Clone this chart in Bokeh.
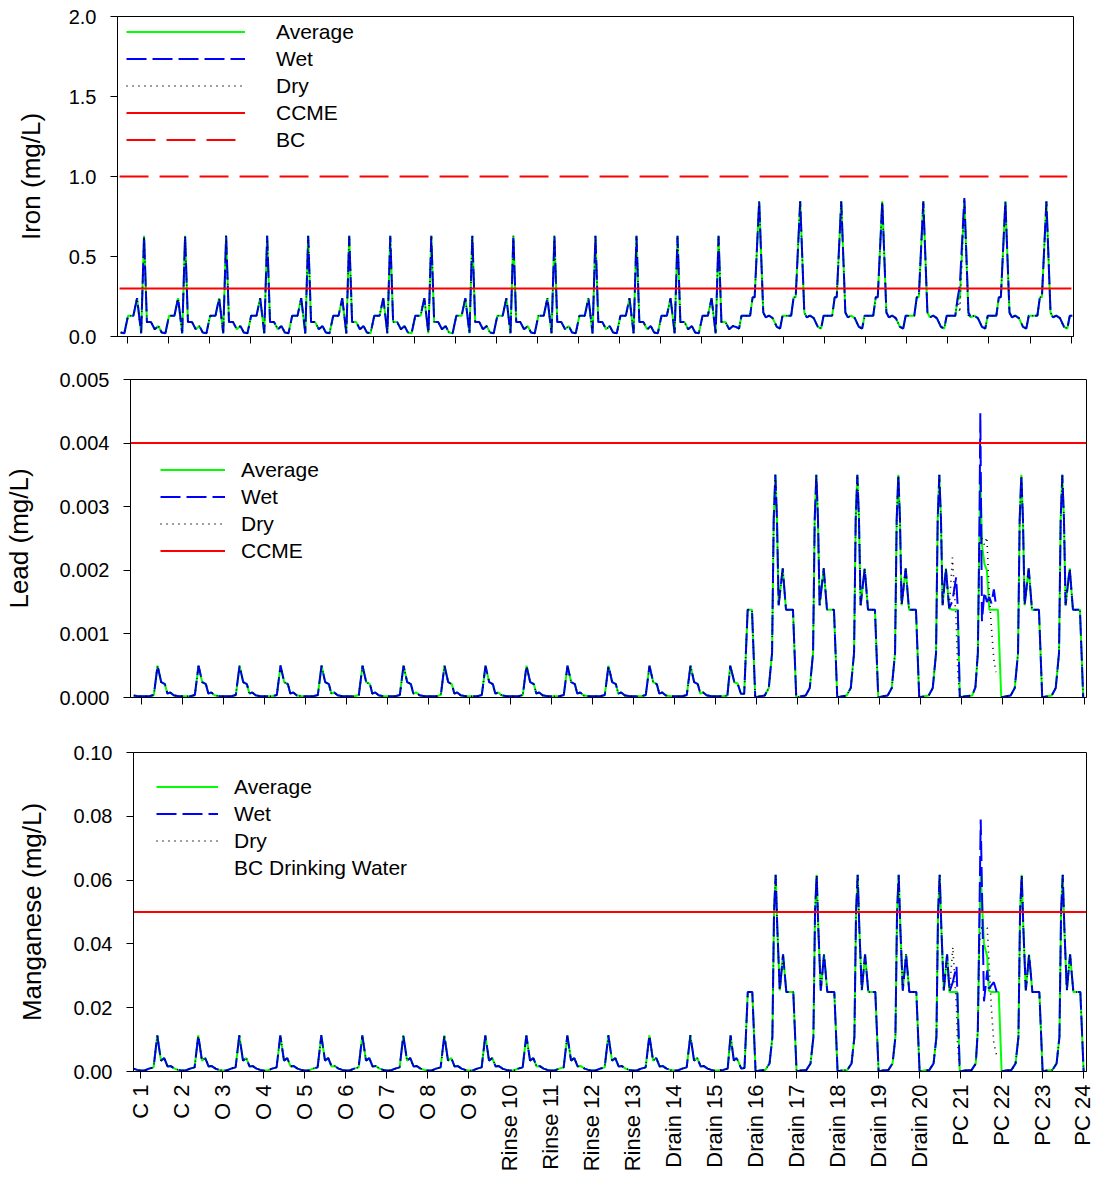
import math
import numpy as np
from bokeh.plotting import figure
from bokeh.models import (FixedTicker, Legend, LegendItem, ColumnDataSource,
                          Range1d, NumeralTickFormatter)
from bokeh.embed import file_html
from bokeh.resources import INLINE

FONT = "Liberation Sans"

# ---------------- categories ----------------
labels = ["C 1", "C 2", "O 3", "O 4", "O 5", "O 6", "O 7", "O 8", "O 9",
          "Rinse 10", "Rinse 11", "Rinse 12", "Rinse 13",
          "Drain 14", "Drain 15", "Drain 16", "Drain 17", "Drain 18", "Drain 19", "Drain 20",
          "PC 21", "PC 22", "PC 23", "PC 24"]

# ---------------- guideline values ----------------
fe_ccme = 0.3
fe_bc = 1.0
pb_ccme = 0.004
mn_bc = 0.05

# ---------------- Iron profiles (offset within period, mg/L) ----------------
fe_low_off = [-0.16, -0.07, 0.02, 0.15, 0.24, 0.34, 0.41, 0.48, 0.58, 0.67, 0.76]
fe_low_val = [0.025, 0.02, 0.13, 0.13, 0.24, 0.02, 0.63, 0.09, 0.09, 0.045, 0.065]

fe_high_off = [-0.17, -0.09, -0.03, 0.03, 0.18, 0.24, 0.29, 0.40, 0.50, 0.56, 0.64, 0.73]
fe_high_val = [0.06, 0.05, 0.13, 0.13, 0.13, 0.245, 0.245, 0.845, 0.15, 0.12, 0.13, 0.115]

fe_pc21_off = [-0.17, -0.09, -0.03, 0.03, 0.18, 0.24, 0.29, 0.40, 0.50, 0.56, 0.64, 0.73]
fe_pc21_avg = [0.06, 0.05, 0.13, 0.13, 0.13, 0.245, 0.235, 0.855, 0.14, 0.12, 0.13, 0.115]
fe_pc21_wet = [0.06, 0.05, 0.13, 0.13, 0.13, 0.245, 0.32, 0.866, 0.15, 0.12, 0.13, 0.115]
fe_pc21_dry = [0.06, 0.05, 0.13, 0.13, 0.13, 0.24, 0.15, 0.845, 0.13, 0.12, 0.13, 0.115]

fe_seq = ["low"] * 15 + ["high"] * 5 + ["pc21"] + ["high"] * 3

# ---------------- Lead profiles ----------------
pb_low_off = [-0.18, -0.08, 0.0, 0.10, 0.20, 0.31, 0.40, 0.49, 0.58, 0.64, 0.71, 0.80]
pb_low_val = [0.00003, 0.00002, 0.00002, 0.00002, 0.00002, 0.00004, 0.0005, 0.00024,
              0.00021, 0.00006, 0.00008, 0.00003]

pb_d15_off = [-0.18, -0.08, 0.0, 0.10, 0.20, 0.30, 0.37, 0.47, 0.55, 0.63, 0.71, 0.795, 0.90]
pb_d15_val = [0.00003, 0.00002, 0.00002, 0.00002, 0.00002, 0.00003, 0.0005, 0.00024,
              0.00022, 0.00006, 0.00006, 0.00138, 0.00138]

pb_high_off = [-0.02, 0.10, 0.21, 0.31, 0.39, 0.43, 0.47, 0.51, 0.55, 0.65, 0.73, 0.90]
pb_high_val = [0.0, 0.00002, 0.00003, 0.00015, 0.0007, 0.0028, 0.0035, 0.0028,
               0.00145, 0.00203, 0.00138, 0.00138]

pb_d20_off = [-0.02, 0.10, 0.21, 0.31, 0.39, 0.43, 0.47, 0.51, 0.55, 0.63, 0.71, 0.79, 0.88, 0.92]
pb_d20_avg = [0.0, 0.00002, 0.00003, 0.00015, 0.0007, 0.0028, 0.0035, 0.0028,
              0.00145, 0.00203, 0.0014, 0.00138, 0.00138, 0.00138]
pb_d20_wet = [0.0, 0.00002, 0.00003, 0.00015, 0.0007, 0.0028, 0.0035, 0.0028,
              0.00145, 0.00203, 0.0014, 0.00152, 0.00189, 0.0014]
pb_d20_dry = [0.0, 0.00002, 0.00003, 0.00015, 0.0007, 0.0028, 0.0035, 0.0028,
              0.00145, 0.00203, 0.0014, 0.0022, 0.0012, 0.0004]

pb_pc21_off = [-0.03, 0.10, 0.27, 0.35, 0.41, 0.45, 0.47, 0.51, 0.57, 0.63, 0.69, 0.74, 0.80, 0.85, 0.90]
pb_pc21_avg = [0.0, 0.00002, 0.00003, 0.00016, 0.0007, 0.0026, 0.0035, 0.0024,
               0.0021, 0.002, 0.00138, 0.00138, 0.00138, 0.00138, 0.00138]
pb_pc21_wet = [0.0, 0.00002, 0.00003, 0.00016, 0.0007, 0.0028, 0.00447, 0.0012,
               0.00166, 0.0015, 0.00158, 0.00148, 0.0017, 0.00146, np.nan]
pb_pc21_dry = [0.0, 0.00002, 0.00003, 0.00016, 0.0007, 0.0024, 0.0025, 0.0025,
               0.0024, 0.00252, 0.0016, 0.0011, 0.0006, 0.0004, np.nan]

pb_seq = ["low"] * 14 + ["d15"] + ["high"] * 4 + ["d20", "pc21"] + ["high"] * 3

# ---------------- Manganese profiles ----------------
mn_low_off = [-0.17, -0.08, 0.0, 0.10, 0.21, 0.32, 0.41, 0.50, 0.58, 0.66, 0.74]
mn_low_val = [0.0009, 0.0005, 0.0003, 0.0003, 0.0009, 0.0013, 0.0113, 0.0034, 0.0042, 0.0016, 0.0017]

mn_d15_off = [-0.17, -0.08, 0.0, 0.10, 0.21, 0.32, 0.39, 0.47, 0.53, 0.57, 0.65, 0.73, 0.81, 0.92]
mn_d15_val = [0.0009, 0.0005, 0.0003, 0.0003, 0.0005, 0.0009, 0.0113, 0.0034, 0.0042,
              0.0034, 0.0009, 0.0011, 0.0249, 0.0249]

mn_high_off = [0.0, 0.10, 0.24, 0.34, 0.41, 0.45, 0.49, 0.53, 0.59, 0.67, 0.75, 0.92]
mn_high_val = [0.0, 0.0003, 0.0005, 0.0025, 0.0108, 0.05, 0.0617, 0.045, 0.0254, 0.0367, 0.0249, 0.0249]

mn_d20_off = [0.0, 0.10, 0.24, 0.34, 0.41, 0.45, 0.49, 0.53, 0.59, 0.67, 0.73, 0.81, 0.90, 0.92]
mn_d20_avg = [0.0, 0.0003, 0.0005, 0.0025, 0.0108, 0.05, 0.0617, 0.045, 0.0254, 0.0367,
              0.0249, 0.0249, 0.0249, 0.0249]
mn_d20_wet = [0.0, 0.0003, 0.0005, 0.0025, 0.0108, 0.05, 0.0617, 0.045, 0.0254, 0.0367,
              0.025, 0.028, 0.033, 0.025]
mn_d20_dry = [0.0, 0.0003, 0.0005, 0.0025, 0.0108, 0.05, 0.0617, 0.045, 0.0254, 0.0367,
              0.025, 0.039, 0.02, 0.0097]

mn_pc21_off = [-0.02, 0.10, 0.27, 0.37, 0.42, 0.46, 0.49, 0.57, 0.65, 0.69, 0.75, 0.81, 0.88, 0.93]
mn_pc21_avg = [0.0, 0.0003, 0.0005, 0.0025, 0.013, 0.045, 0.062, 0.04, 0.036, 0.0254,
               0.0249, 0.0249, 0.0249, 0.0249]
mn_pc21_wet = [0.0, 0.0003, 0.0005, 0.0025, 0.013, 0.05, 0.079, 0.022, 0.0317, 0.026,
               0.027, 0.028, 0.025, np.nan]
mn_pc21_dry = [0.0, 0.0003, 0.0005, 0.0025, 0.013, 0.04, 0.045, 0.045, 0.045, 0.035,
               0.02, 0.0088, 0.005, np.nan]

mn_seq = ["low"] * 14 + ["d15"] + ["high"] * 4 + ["d20", "pc21"] + ["high"] * 3


def prof(off, avg, wet=None, dry=None):
    return {"off": off, "avg": avg, "wet": wet if wet is not None else avg,
            "dry": dry if dry is not None else avg}


fe_profiles = {"low": prof(fe_low_off, fe_low_val), "high": prof(fe_high_off, fe_high_val),
               "pc21": prof(fe_pc21_off, fe_pc21_avg, fe_pc21_wet, fe_pc21_dry)}
pb_profiles = {"low": prof(pb_low_off, pb_low_val), "d15": prof(pb_d15_off, pb_d15_val),
               "high": prof(pb_high_off, pb_high_val),
               "d20": prof(pb_d20_off, pb_d20_avg, pb_d20_wet, pb_d20_dry),
               "pc21": prof(pb_pc21_off, pb_pc21_avg, pb_pc21_wet, pb_pc21_dry)}
mn_profiles = {"low": prof(mn_low_off, mn_low_val), "d15": prof(mn_d15_off, mn_d15_val),
               "high": prof(mn_high_off, mn_high_val),
               "d20": prof(mn_d20_off, mn_d20_avg, mn_d20_wet, mn_d20_dry),
               "pc21": prof(mn_pc21_off, mn_pc21_avg, mn_pc21_wet, mn_pc21_dry)}


def build(profiles, seq, x_end):
    xs, a, w, d = [], [], [], []
    for p, name in enumerate(seq):
        pr = profiles[name]
        for i, off in enumerate(pr["off"]):
            x = p + off
            if x > x_end:
                continue
            xs.append(x)
            a.append(pr["avg"][i])
            w.append(pr["wet"][i])
            d.append(pr["dry"][i])
    return ColumnDataSource(dict(x=np.array(xs), avg=np.array(a, dtype=float),
                                 wet=np.array(w, dtype=float), dry=np.array(d, dtype=float)))


def make_fig(height, borders, xr, yr, yticks, yfmt, ylabel, ylabel_standoff, show_xlabels):
    top, bottom, left, right = borders
    p = figure(width=1094, height=height, output_backend="svg", toolbar_location=None,
               x_range=Range1d(*xr), y_range=Range1d(*yr),
               min_border_top=top, min_border_bottom=bottom,
               min_border_left=left, min_border_right=right)
    p.outline_line_color = "black"
    p.outline_line_width = 1
    p.outline_line_alpha = 1
    p.xgrid.grid_line_color = None
    p.ygrid.grid_line_color = None
    p.background_fill_color = "white"
    p.border_fill_color = "white"

    xa = p.xaxis[0]
    xa.axis_line_color = "black"
    if show_xlabels:
        xa.ticker = FixedTicker(ticks=list(range(len(labels))))
        xa.major_tick_out = 7
        xa.major_tick_in = 0
        xa.major_tick_line_color = "black"
        xa.minor_tick_out = 0
        xa.minor_tick_in = 0
        xa.major_label_overrides = {i: s for i, s in enumerate(labels)}
        xa.major_label_orientation = math.pi / 2
        xa.major_label_text_font = FONT
        xa.major_label_text_font_size = "22px"
        xa.major_label_text_color = "black"
        xa.major_label_standoff = 6
    else:
        # tick marks only (no labels): use minor ticks at the category positions
        xa.ticker = FixedTicker(ticks=[], minor_ticks=list(range(len(labels))))
        xa.minor_tick_out = 7
        xa.minor_tick_in = 0
        xa.minor_tick_line_color = "black"
        xa.major_tick_out = 0
        xa.major_tick_in = 0

    ya = p.yaxis[0]
    ya.ticker = FixedTicker(ticks=yticks)
    ya.formatter = NumeralTickFormatter(format=yfmt)
    ya.major_tick_out = 7
    ya.major_tick_in = 0
    ya.minor_tick_out = 0
    ya.minor_tick_in = 0
    ya.axis_line_color = "black"
    ya.major_tick_line_color = "black"
    ya.major_label_text_font = FONT
    ya.major_label_text_font_size = "20px"
    ya.major_label_text_color = "black"
    ya.major_label_standoff = 14
    ya.axis_label = ylabel
    ya.axis_label_text_font = FONT
    ya.axis_label_text_font_size = "26px"
    ya.axis_label_text_font_style = "normal"
    ya.axis_label_text_color = "black"
    ya.axis_label_standoff = ylabel_standoff
    return p


def add_series(p, src):
    r_avg = p.line("x", "avg", source=src, line_color="#00ff00", line_width=2)
    r_wet = p.line("x", "wet", source=src, line_color="#0000ff", line_width=2, line_dash="20 6")
    r_dry = p.line("x", "dry", source=src, line_color="black", line_width=1.6, line_dash="1 5")
    return r_avg, r_wet, r_dry


def legend(items, loc, gw, standoff):
    return Legend(items=items, location=loc, glyph_width=gw, glyph_height=27,
                  label_standoff=standoff, spacing=0, padding=0, margin=0,
                  border_line_alpha=0, background_fill_alpha=0,
                  label_text_font=FONT, label_text_font_size="21px",
                  label_text_color="black", label_height=27)


# ---------------- Iron ----------------
fe_xr = (-0.237, 23.06)
f1 = make_fig(358, (16, 22, 117, 21), fe_xr, (0, 2.0), [0, 0.5, 1.0, 1.5, 2.0], "0.0",
              "Iron (mg/L)", 20, False)
fe_src = build(fe_profiles, fe_seq, 23.05)
a1, w1, d1 = add_series(f1, fe_src)
c1 = f1.line(x=[fe_xr[0] + 0.05, fe_xr[1] - 0.05], y=[fe_ccme, fe_ccme], line_color="red", line_width=2)
b1 = f1.line(x=[fe_xr[0] + 0.05, fe_xr[1] - 0.15], y=[fe_bc, fe_bc], line_color="red", line_width=2,
             line_dash="29 11")
f1.add_layout(legend([LegendItem(label="Average", renderers=[a1]),
                      LegendItem(label="Wet", renderers=[w1]),
                      LegendItem(label="Dry", renderers=[d1]),
                      LegendItem(label="CCME", renderers=[c1]),
                      LegendItem(label="BC", renderers=[b1])], (9, 183), 119, 31))

# ---------------- Lead ----------------
pb_xr = (-0.26, 23.06)
f2 = make_fig(367, (21, 28, 130, 8), pb_xr, (0, 0.005),
              [0, 0.001, 0.002, 0.003, 0.004, 0.005], "0.000", "Lead (mg/L)", 22, False)
pb_src = build(pb_profiles, pb_seq, 23.0)
a2, w2, d2 = add_series(f2, pb_src)
c2 = f2.line(x=list(pb_xr), y=[pb_ccme, pb_ccme], line_color="red", line_width=2)
f2.add_layout(legend([LegendItem(label="Average", renderers=[a2]),
                      LegendItem(label="Wet", renderers=[w2]),
                      LegendItem(label="Dry", renderers=[d2]),
                      LegendItem(label="CCME", renderers=[c2])], (30, 133), 65, 16))

# ---------------- Manganese ----------------
mn_xr = (-0.17, 23.07)
f3 = make_fig(454, (27, 108, 133, 8), mn_xr, (0, 0.10),
              [0, 0.02, 0.04, 0.06, 0.08, 0.10], "0.00", "Manganese (mg/L)", 24, True)
mn_src = build(mn_profiles, mn_seq, 23.0)
a3, w3, d3 = add_series(f3, mn_src)
f3.line(x=list(mn_xr), y=[mn_bc, mn_bc], line_color="red", line_width=2)
bc3 = f3.line(x=list(mn_xr), y=[mn_bc, mn_bc], line_color="red", line_width=2, line_alpha=0)
f3.add_layout(legend([LegendItem(label="Average", renderers=[a3]),
                      LegendItem(label="Wet", renderers=[w3]),
                      LegendItem(label="Dry", renderers=[d3]),
                      LegendItem(label="BC Drinking Water", renderers=[bc3])], (23, 190), 62, 16))

html = file_html([f1, f2, f3], INLINE)
open("out.html", "w").write(html)
